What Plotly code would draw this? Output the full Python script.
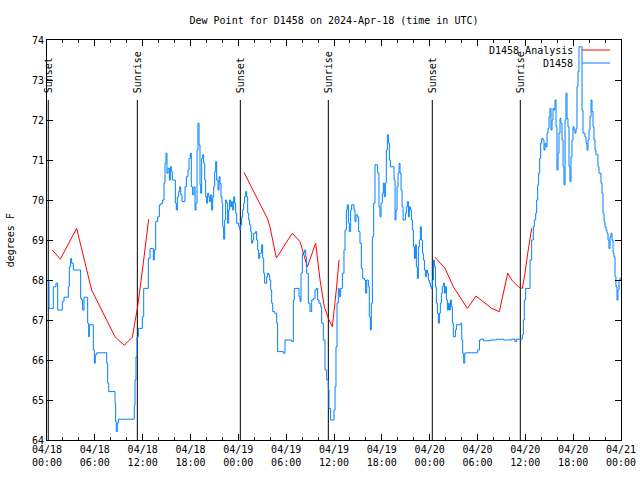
import plotly.graph_objects as go

# ---------------- data (hours since 2024-04-18 00:00 UTC, degrees F) ----------------
obs_hours = [0.08, 0.25, 0.79, 1.13, 1.34, 1.92, 2.13, 2.68, 2.80, 2.97, 3.09, 3.30, 4.22, 4.35, 4.47, 4.64,
             5.10, 5.23, 5.31, 5.81, 5.94, 6.06, 6.23, 7.49, 7.61, 7.74, 8.53, 8.61, 8.69, 8.82, 8.95, 10.95,
             11.04, 11.16, 11.29, 11.46, 11.96, 12.13, 12.71, 12.92, 13.34, 13.46, 13.63, 13.88, 14.09,
             14.30, 14.51, 14.68, 14.80, 14.93, 15.05, 15.18, 15.35, 15.47, 15.60, 15.72, 16.10, 16.22, 16.35,
             16.52, 16.64, 16.77, 16.93, 17.31, 17.48, 17.69, 17.81, 17.98, 18.10, 18.27, 18.44, 18.57, 18.69,
             18.82, 18.94, 19.07, 19.19, 19.28, 19.40, 19.53, 19.65, 19.78, 19.90, 20.03, 20.15, 20.28, 20.40,
             20.53, 20.66, 20.78, 20.91, 21.03, 21.16, 21.28, 21.45, 21.58, 21.70, 21.83, 21.95, 22.04, 22.16,
             22.29, 22.41, 22.54, 22.66, 22.79, 22.91, 23.04, 23.16, 23.29, 23.42, 23.54, 23.67, 23.79, 24.04,
             24.17, 24.29, 24.42, 24.54, 24.67, 24.79, 24.92, 25.05, 25.17, 25.30, 25.42, 25.55, 25.67, 25.80,
             25.92, 26.17, 26.30, 26.43, 26.55, 26.68, 26.93, 27.05, 27.18, 27.30, 27.55, 27.68, 27.81, 27.93,
             28.06, 28.18, 28.31, 28.56, 28.81, 28.93, 29.65, 29.85, 30.69, 30.90, 31.02, 31.61, 31.74, 31.86,
             32.03, 32.28, 32.45, 32.57, 32.78, 32.99, 33.20, 33.41, 33.62, 33.78, 33.95, 34.12, 34.33, 34.45,
             34.66, 34.87, 35.08, 35.29, 35.37, 35.58, 36.00, 36.13, 36.25, 36.38, 36.54, 36.67, 36.84, 37.05,
             37.25, 37.38, 37.55, 37.67, 37.80, 37.92, 38.09, 38.22, 38.51, 38.63, 38.76, 38.93, 39.09, 39.26,
             39.43, 39.60, 39.81, 39.97, 40.10, 40.31, 40.43, 40.56, 40.68, 40.81, 40.98, 41.14, 41.48, 41.64,
             41.77, 41.90, 42.06, 42.19, 42.31, 42.44, 42.56, 42.69, 42.82, 42.94, 43.07,
             43.53, 43.66, 43.78, 43.91, 44.03, 44.16, 44.28, 44.41, 44.54, 44.66, 44.95, 45.08, 45.20, 45.33,
             45.45, 45.58, 45.71, 45.83, 45.96, 46.08, 46.21, 46.33, 46.46, 46.58, 46.71, 46.83, 46.96, 47.09,
             47.21, 47.34, 47.46, 47.59, 47.71, 47.84, 47.96, 48.09, 48.21, 48.34, 48.47, 48.59, 48.72, 48.84,
             48.97, 49.09, 49.22, 49.34, 49.47, 49.59, 49.72, 49.85, 49.97, 50.10, 50.22, 50.35, 50.47, 50.60,
             50.72, 50.85, 50.97, 51.23, 51.35, 51.89, 52.02, 52.14, 52.27, 52.40, 52.52, 53.98, 54.24, 54.40,
             54.74, 55.15, 55.57, 56.41, 57.25,
             58.29, 58.70, 58.91, 59.62, 59.75, 59.87, 60.04, 60.59, 60.79, 61.00, 61.13, 61.30, 61.42, 61.55,
             61.67, 61.80, 61.92, 62.05, 62.22, 62.34, 62.47, 62.59, 62.72, 62.84, 62.97, 63.09, 63.22, 63.35,
             63.47, 63.60, 63.72, 63.85, 63.97, 64.10, 64.22, 64.35, 64.47, 64.60, 64.73, 64.85, 64.98, 65.10,
             65.23, 65.35, 65.48, 65.60, 65.73, 65.85, 65.98, 66.10, 66.23, 66.36, 66.48, 66.61, 66.73, 67.11,
             67.23, 67.48, 67.61, 67.74, 67.86, 67.99, 68.11, 68.24, 68.36, 68.49, 68.61, 68.74, 68.86, 69.11,
             69.24, 69.49, 69.62, 69.74, 69.87, 69.99, 70.12, 70.24, 70.37, 70.49, 70.62, 70.75, 70.87, 71.00,
             71.12, 71.25, 71.37, 71.50, 71.62, 71.75, 71.87, 72.00]
obs_values = [67.96, 67.29, 67.83, 67.92, 67.25, 67.46, 67.57, 67.83, 68.33, 68.54, 68.42, 68.25, 67.54, 67.50, 67.25, 67.57,
              66.92, 66.58, 66.88, 66.25, 65.92, 66.13, 66.18, 65.92, 65.42, 65.21, 64.92, 64.46, 64.21, 64.42, 64.52, 64.87,
              65.50, 66.08, 66.58, 66.79, 67.08, 67.79, 68.54, 68.79, 68.50, 68.75, 69.46, 69.58, 69.88,
              69.92, 70.00, 70.42, 70.92, 71.17, 70.67, 70.79, 70.50, 70.83, 70.71, 70.50, 69.92, 69.75, 70.08,
              70.21, 70.33, 70.13, 69.96, 70.33, 70.58, 70.75, 71.04, 71.17, 70.33, 70.13, 70.33, 69.75, 69.92,
              71.25, 71.92, 71.38, 70.38, 70.17, 71.04, 71.13, 70.92, 70.50, 70.08, 69.92, 70.17, 70.08, 69.96,
              70.13, 69.75, 70.08, 70.33, 70.71, 70.96, 70.50, 70.25, 70.58, 70.42, 70.08, 69.92, 69.33, 69.02,
              69.50, 70.00, 69.92, 69.42, 69.75, 70.00, 69.83, 69.96, 69.75, 70.08, 69.92, 69.67, 69.42, 69.33,
              69.25, 69.38, 69.58, 69.75, 69.92, 70.08, 70.21, 70.08, 69.67, 69.50, 69.38, 69.21, 68.92, 69.00,
              69.17, 69.21, 69.00, 68.75, 68.54, 68.67, 68.88, 68.54, 68.17, 67.92, 68.08, 68.17, 68.13, 68.00,
              67.75, 67.42, 67.21, 67.17, 66.92, 66.21, 66.17, 66.50, 66.46, 67.50, 67.79, 67.58, 67.46, 68.17,
              68.67, 68.75, 68.58, 68.17, 67.42, 67.21, 67.50, 67.54, 67.75, 67.79, 67.50, 67.42, 67.33, 66.92,
              66.50, 65.75, 65.50, 65.25, 64.79, 64.50, 64.75, 65.33, 66.33, 67.42, 67.79, 67.58, 67.79, 68.17,
              68.75, 69.25, 69.75, 69.88, 69.42, 69.21, 69.75, 69.88, 69.75, 69.46, 69.63, 69.58, 69.21, 68.92,
              68.29, 68.04, 68.00, 67.67, 68.00, 67.83, 67.08, 66.75, 67.42, 69.08, 69.92, 70.88, 70.67, 69.83,
              69.58, 69.92, 70.17, 70.42, 70.08, 70.42, 71.25, 71.63, 71.42, 71.00, 70.83,
              70.50, 69.50, 69.75, 70.33, 70.67, 70.92, 70.67, 70.25, 69.83, 69.50, 69.67, 69.83, 69.96, 69.58,
              69.83, 69.75, 69.50, 69.25, 68.83, 68.54, 68.88, 68.33, 68.04, 68.83, 69.00, 69.33, 69.00, 68.67,
              68.50, 68.25, 68.08, 68.25, 68.17, 68.00, 67.92, 67.83, 67.79, 68.00, 68.50, 68.33, 67.83, 67.42,
              67.17, 66.92, 67.17, 67.42, 67.67, 67.83, 67.92, 67.67, 67.83, 67.50, 67.25, 67.42, 67.25, 67.50,
              67.33, 66.92, 66.58, 66.75, 66.88, 66.92, 66.50, 66.17, 65.92, 66.17, 66.18, 66.25, 66.50, 66.52,
              66.48, 66.48, 66.50, 66.52, 66.50,
              66.52, 66.46, 66.52, 66.63, 67.00, 67.50, 67.79, 68.50, 69.00, 69.33, 69.50, 69.67, 70.00, 70.38,
              70.67, 71.04, 71.42, 71.54, 71.50, 71.25, 71.42, 71.33, 71.67, 71.79, 72.08, 72.29, 71.75, 72.00,
              72.29, 72.25, 72.50, 71.83, 70.75, 71.17, 71.67, 72.04, 71.92, 71.50, 70.83, 70.38, 72.00, 72.67,
              72.04, 71.83, 70.83, 70.46, 71.08, 71.50, 71.83, 71.75, 71.67, 71.79, 72.83, 73.21, 73.83, 72.25,
              71.67, 71.58, 71.42, 71.25, 71.50, 71.75, 72.08, 72.50, 72.21, 71.83, 71.50, 71.25, 71.13, 70.83,
              70.67, 70.42, 70.17, 69.67, 69.46, 69.33, 69.25, 69.17, 69.00, 68.79, 69.08, 69.17, 69.00, 68.67,
              68.58, 68.08, 67.83, 67.50, 67.75, 68.00, 68.04, 68.04]

ana_hours = [0.67, 1.67, 3.72, 5.60, 8.53, 9.70, 10.70, 11.37, 12.08, 12.75, None,
             24.71, 27.13, 27.64, 27.97, 28.77, 30.77, 31.74, 32.66, 33.70, 34.25, 34.79, 35.29, 35.79, 36.33, 36.63, None,
             48.67, 49.93, 50.97, 51.90, 52.73, 53.81, 54.73, 55.78, 56.74, 57.79, 58.29, 59.13, 59.62, 59.96,
             60.30, 60.59, 60.80]
ana_values = [68.75, 68.52, 69.29, 67.75, 66.58, 66.37, 66.57, 67.33, 68.42, 69.52, None,
              70.69, 69.71, 69.54, 69.33, 68.55, 69.17, 68.96, 68.33, 68.92, 68.00, 67.33, 67.04, 66.83, 67.83, 68.50, None,
              68.57, 68.29, 67.83, 67.54, 67.29, 67.60, 67.46, 67.29, 67.21, 68.17, 68.00, 67.83, 67.79, 68.17,
              68.67, 69.00, 69.29]

sun_hours = [0.16, 11.33, 24.25, 35.29, 48.33, 59.37]
sun_labels = ["Sunset", "Sunrise", "Sunset", "Sunrise", "Sunset", "Sunrise"]
sun_line_top = 72.5

x_tick_vals = [0, 6, 12, 18, 24, 30, 36, 42, 48, 54, 60, 66, 72]
x_tick_text = ["04/18<br>00:00", "04/18<br>06:00", "04/18<br>12:00", "04/18<br>18:00",
               "04/19<br>00:00", "04/19<br>06:00", "04/19<br>12:00", "04/19<br>18:00",
               "04/20<br>00:00", "04/20<br>06:00", "04/20<br>12:00", "04/20<br>18:00",
               "04/21<br>00:00"]
y_tick_vals = [64, 65, 66, 67, 68, 69, 70, 71, 72, 73, 74]

series_names = ["D1458 Analysis", "D1458"]
series_colors = ["#ff0000", "#0080ff"]

FONT = "DejaVu Sans Mono"
FS = 10

fig = go.Figure()

# sunrise / sunset vertical lines
for h in sun_hours:
    fig.add_trace(go.Scatter(x=[h, h], y=[64, sun_line_top], mode="lines",
                             line=dict(color="black", width=1), showlegend=False,
                             hoverinfo="skip"))

fig.add_trace(go.Scatter(x=ana_hours, y=ana_values, mode="lines", name=series_names[0],
                         line=dict(color=series_colors[0], width=1), connectgaps=False,
                         showlegend=False))
fig.add_trace(go.Scatter(x=obs_hours, y=obs_values, mode="lines", name=series_names[1],
                         line=dict(color=series_colors[1], width=1, shape="hv"),
                         showlegend=False))

for h, lab in zip(sun_hours, sun_labels):
    fig.add_annotation(x=h, y=sun_line_top, xref="x", yref="y", text=lab, textangle=-90,
                       showarrow=False, xanchor="center", yanchor="bottom", yshift=5,
                       font=dict(family=FONT, size=FS, color="black"))

# manual gnuplot-style legend (text left, sample line right)
legend_y = [0.975, 0.9425]
for name, color, ly in zip(series_names, series_colors, legend_y):
    fig.add_annotation(x=0.92, y=ly, xref="paper", yref="paper", text=name, showarrow=False,
                       xanchor="right", yanchor="middle",
                       font=dict(family=FONT, size=FS, color="black"))
    fig.add_shape(type="line", xref="paper", yref="paper", x0=0.932, x1=0.981, y0=ly, y1=ly,
                  line=dict(color=color, width=1))

# y-axis title placed like gnuplot's
fig.add_annotation(x=-0.064, y=0.5, xref="paper", yref="paper", text="degrees F", textangle=-90,
                   showarrow=False, xanchor="center", yanchor="middle",
                   font=dict(family=FONT, size=FS, color="black"))

fig.update_layout(
    width=640, height=480,
    margin=dict(l=47, r=19, t=40, b=40, autoexpand=False),
    paper_bgcolor="white", plot_bgcolor="white",
    font=dict(family=FONT, size=FS, color="black"),
    title=dict(text="Dew Point for D1458 on 2024-Apr-18 (time in UTC)", x=0.5, xref="paper",
               y=1 - 20 / 480, yref="container", yanchor="middle", xanchor="center",
               font=dict(family=FONT, size=FS, color="black")),
    showlegend=False,
)
fig.update_xaxes(range=[0, 72], tickmode="array", tickvals=x_tick_vals, ticktext=x_tick_text,
                 ticks="inside", ticklen=6, tickcolor="black", showline=True, linecolor="black",
                 linewidth=1, mirror="allticks", showgrid=False, zeroline=False, automargin=False,
                 minor=dict(tickmode="linear", tick0=0, dtick=2, ticks="inside", ticklen=3,
                            tickcolor="black", showgrid=False),
                 tickfont=dict(family=FONT, size=FS, color="black"))
fig.update_yaxes(range=[64, 74], tickmode="array", tickvals=y_tick_vals,
                 ticks="inside", ticklen=6, tickcolor="black", showline=True, linecolor="black",
                 linewidth=1, mirror="allticks", showgrid=False, zeroline=False, automargin=False,
                 tickfont=dict(family=FONT, size=FS, color="black"))

# remove the browser's default page margin so the 640x480 figure fills the window exactly
fig.write_html("out.html", config={"displayModeBar": False},
               post_script="document.body.style.margin='0';")
